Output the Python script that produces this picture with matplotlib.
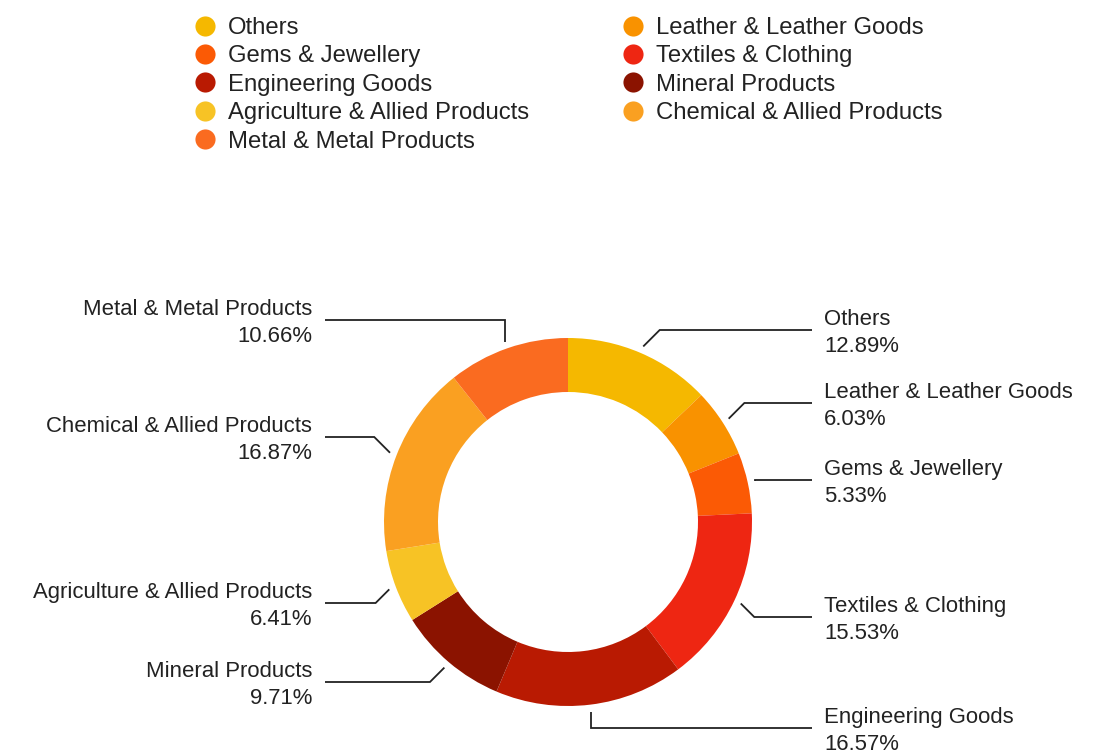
import matplotlib
matplotlib.use("Agg")
import numpy as np
import matplotlib.pyplot as plt
from matplotlib.lines import Line2D

plt.rcParams['font.family'] = ['Liberation Sans', 'DejaVu Sans']

# export share by product group, clockwise from 12 o'clock
categories = [
    "Others",
    "Leather & Leather Goods",
    "Gems & Jewellery",
    "Textiles & Clothing",
    "Engineering Goods",
    "Mineral Products",
    "Agriculture & Allied Products",
    "Chemical & Allied Products",
    "Metal & Metal Products",
]
shares = [12.89, 6.03, 5.33, 15.53, 16.57, 9.71, 6.41, 16.87, 10.66]
colors = ["#F5B800", "#F99200", "#FB5A05", "#EE2612", "#B91A02",
          "#8B1300", "#F7C325", "#FAA021", "#FA6B20"]

# callout placement (pixels from top) and how each leader bends
label_y = [330, 403, 480, 617, 728, 682, 603, 437, 320]
bends = ["diag", "diag", "flat", "diag", "vert", "diag", "diag", "diag", "vert"]

W, H = 1106, 756
TEXT = "#222222"

fig = plt.figure(figsize=(W / 100, H / 100), dpi=100)
ax = fig.add_axes([0, 0, 1, 1])

cx, cy = 568, H - 522
r_out, ring = 184, 54
wedges, _ = ax.pie(shares, colors=colors, startangle=90, counterclock=False,
                   center=(cx, cy), radius=r_out,
                   wedgeprops=dict(width=ring, linewidth=0))

ax.set_xlim(0, W)
ax.set_ylim(0, H)
ax.set_aspect("equal")
ax.axis("off")

for w, name, pct, ly, bend in zip(wedges, categories, shares, label_y, bends):
    theta = np.deg2rad((w.theta1 + w.theta2) / 2)
    side = 1 if np.cos(theta) > 0 else -1
    sx = cx + (r_out + 7) * np.cos(theta)
    sy = cy + (r_out + 7) * np.sin(theta)
    ey = H - ly
    if bend == "diag":
        ex = sx + side * abs(ey - sy)
    else:
        ex = sx
    end_x = 812 if side > 0 else 325
    ax.plot([sx, ex, end_x], [sy, ey, ey], color=TEXT, lw=1.3,
            solid_joinstyle="miter", solid_capstyle="butt")
    tx = 824 if side > 0 else 312
    ax.text(tx, ey - 3, f"{name}\n{pct:.2f}%", ha="left" if side > 0 else "right",
            va="center", fontsize=15.9, color=TEXT, linespacing=1.4)

# legend reads row by row in series order
order = list(range(0, len(categories), 2)) + list(range(1, len(categories), 2))
handles = [Line2D([], [], marker="o", linestyle="", markersize=14.5,
                  markerfacecolor=colors[i], markeredgewidth=0) for i in order]
labels = [categories[i] for i in order]
fig.legend(handles, labels, ncol=2, frameon=False, fontsize=17.2,
           loc="upper left", bbox_to_anchor=(181 / W, 1 - 5 / H),
           handlelength=1.0, handletextpad=0.46, labelspacing=0.27,
           columnspacing=3.85, borderpad=0, labelcolor=TEXT)

fig.savefig("out.png", dpi=100, facecolor="white")
